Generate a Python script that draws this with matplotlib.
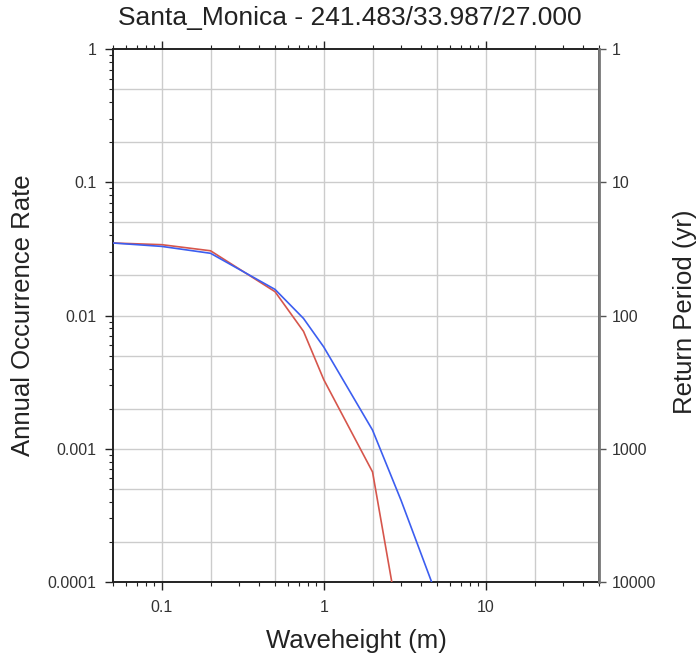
import numpy as np
import matplotlib
matplotlib.use("Agg")
import matplotlib.pyplot as plt
from matplotlib.ticker import LogLocator, FixedLocator, NullFormatter, FixedFormatter

plt.rcParams['font.family'] = ['Liberation Sans', 'DejaVu Sans']

title = "Santa_Monica - 241.483/33.987/27.000"

# waveheight (m) and annual occurrence rate
wave_red = [0.05, 0.1, 0.2, 0.5, 0.75, 1.0, 2.0, 3.0]
rate_red = [0.035, 0.034, 0.0306, 0.0151, 0.0076, 0.0033, 0.00067, 0.00004]

wave_blue = [0.05, 0.1, 0.2, 0.5, 0.75, 1.0, 2.0, 3.0, 5.0]
rate_blue = [0.035, 0.033, 0.0293, 0.0157, 0.0095, 0.0058, 0.00138, 0.00041, 0.000078]

x_ticks = [0.1, 1, 10]
x_ticklabels = ["0.1", "1", "10"]
y_ticks = [0.0001, 0.001, 0.01, 0.1, 1]
y_ticklabels = ["0.0001", "0.001", "0.01", "0.1", "1"]
rp_ticks = [1, 10, 100, 1000, 10000]
rp_ticklabels = ["1", "10", "100", "1000", "10000"]

W, H = 700, 656
fig = plt.figure(figsize=(W / 100, H / 100), dpi=100)
ax = fig.add_axes([113 / W, 1 - 582 / H, 486 / W, 533 / H])

ax.set_xscale("log")
ax.set_yscale("log")
ax.set_xlim(0.05, 50)
ax.set_ylim(0.0001, 1)

# grid at 1,2,5 of each decade
grid_x = [m * 10.0 ** e for e in range(-2, 2) for m in (1, 2, 5)]
grid_y = [m * 10.0 ** e for e in range(-4, 0) for m in (1, 2, 5)]
for gx in grid_x:
    if 0.05 < gx < 50:
        ax.axvline(gx, color="#cccccc", lw=1.0, zorder=0)
for gy in grid_y:
    if 0.0001 < gy < 1:
        ax.axhline(gy, color="#cccccc", lw=1.0, zorder=0)

ax.plot(wave_red, rate_red, color="#d6564c", lw=1.2, zorder=3)
ax.plot(wave_blue, rate_blue, color="#3c5ef0", lw=1.2, zorder=4)

ax.xaxis.set_major_locator(FixedLocator(x_ticks))
ax.xaxis.set_major_formatter(FixedFormatter(x_ticklabels))
ax.xaxis.set_minor_locator(LogLocator(base=10, subs=np.arange(2, 10)))
ax.xaxis.set_minor_formatter(NullFormatter())
ax.yaxis.set_major_locator(FixedLocator(y_ticks))
ax.yaxis.set_major_formatter(FixedFormatter(y_ticklabels))
ax.yaxis.set_minor_locator(LogLocator(base=10, subs=np.arange(2, 10)))
ax.yaxis.set_minor_formatter(NullFormatter())

ax.tick_params(axis="both", which="major", direction="out", length=6, width=1,
               labelsize=11.5, labelcolor="#333333", color="#222222")
ax.tick_params(axis="both", which="minor", direction="out", length=3, width=0.8,
               color="#222222")
ax.tick_params(axis="x", top=True, which="both")
ax.tick_params(axis="y", right=False, which="both")
ax.tick_params(axis="x", which="major", pad=7)
ax.tick_params(axis="y", which="major", pad=6)

for s in ax.spines.values():
    s.set_linewidth(1.4)
    s.set_color("#222222")

# right axis: return period
ax2 = ax.twinx()
ax2.set_yscale("log")
ax2.set_ylim(10000, 1)
ax2.yaxis.set_major_locator(FixedLocator(rp_ticks))
ax2.yaxis.set_major_formatter(FixedFormatter(rp_ticklabels))
ax2.yaxis.set_minor_locator(FixedLocator([]))
ax2.tick_params(axis="y", which="major", direction="out", length=5, width=1,
                labelsize=11.5, labelcolor="#333333", color="#555555", pad=4)
ax2.spines["right"].set_color("#777777")
ax2.spines["right"].set_linewidth(2.0)
for k in ("left", "top", "bottom"):
    ax2.spines[k].set_visible(False)

# titles and axis labels placed in pixels of the figure
fig.text(350 / W, 1 - 25 / H, title, fontsize=19, ha="center", va="baseline",
         color="#222222")
fig.text(356 / W, 1 - 648 / H, "Waveheight (m)", fontsize=18.5, ha="center",
         va="baseline", color="#222222")
fig.text(23 / W, 1 - 315 / H, "Annual Occurrence Rate", fontsize=18.5,
         rotation=90, ha="center", va="center", color="#222222")
fig.text(685 / W, 1 - 312 / H, "Return Period (yr)", fontsize=18.5,
         rotation=90, ha="center", va="center", color="#222222")

fig.savefig("out.png", dpi=100)
